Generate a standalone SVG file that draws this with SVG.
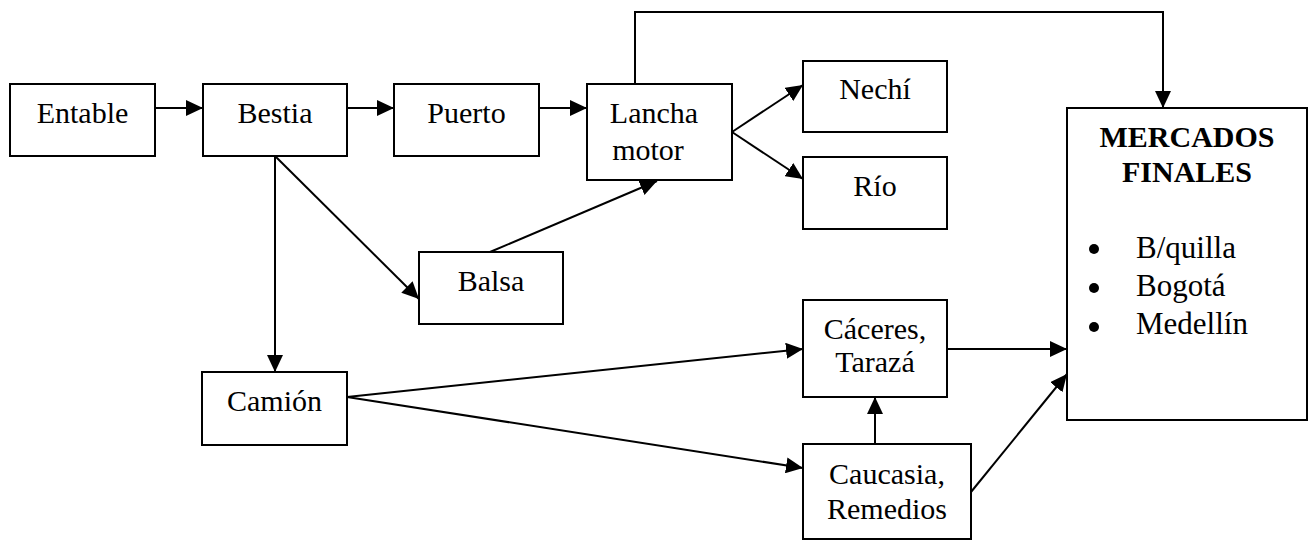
<svg xmlns="http://www.w3.org/2000/svg" width="1308" height="540" viewBox="0 0 1308 540">
<style>
rect.box{fill:#fff;stroke:#000;stroke-width:2}
text{font-family:'Liberation Serif','DejaVu Serif',serif;font-size:30px;fill:#000;text-anchor:middle}
.conn{fill:none;stroke:#000;stroke-width:2}
.b{font-weight:bold}
.l{text-anchor:start;font-size:31px}
</style>
<defs>
<marker id="ah" markerUnits="userSpaceOnUse" markerWidth="18" markerHeight="16" refX="17" refY="8" orient="auto">
<path d="M0,0 L17,8 L0,16 z" fill="#000"/>
</marker>
</defs>
<rect width="1308" height="540" fill="#fff"/>
<g id="connectors">
<line class="conn" x1="155" y1="108" x2="203" y2="108" marker-end="url(#ah)"/>
<line class="conn" x1="347" y1="108" x2="394" y2="108" marker-end="url(#ah)"/>
<line class="conn" x1="539" y1="108" x2="587" y2="108" marker-end="url(#ah)"/>
<line class="conn" x1="732" y1="132" x2="803" y2="85" marker-end="url(#ah)"/>
<line class="conn" x1="732" y1="132" x2="803" y2="179" marker-end="url(#ah)"/>
<polyline class="conn" points="635,84 635,12 1163,12 1163,108" marker-end="url(#ah)"/>
<line class="conn" x1="275" y1="156" x2="275" y2="372" marker-end="url(#ah)"/>
<line class="conn" x1="275" y1="156" x2="419" y2="299" marker-end="url(#ah)"/>
<line class="conn" x1="490" y1="252" x2="657" y2="181" marker-end="url(#ah)"/>
<line class="conn" x1="347" y1="397" x2="803" y2="349" marker-end="url(#ah)"/>
<line class="conn" x1="347" y1="397" x2="803" y2="468" marker-end="url(#ah)"/>
<line class="conn" x1="875" y1="444" x2="875" y2="397" marker-end="url(#ah)"/>
<line class="conn" x1="947" y1="349" x2="1067" y2="349" marker-end="url(#ah)"/>
<line class="conn" x1="971" y1="492" x2="1067" y2="374" marker-end="url(#ah)"/>
</g>
<g id="entable"><rect class="box" x="10" y="84" width="145" height="72"/><text x="82.5" y="123">Entable</text></g>
<g id="bestia"><rect class="box" x="203" y="84" width="144" height="72"/><text x="275" y="123">Bestia</text></g>
<g id="puerto"><rect class="box" x="394" y="84" width="145" height="72"/><text x="466.5" y="123">Puerto</text></g>
<g id="lancha"><rect class="box" x="587" y="84" width="145" height="96"/><text x="654" y="123">Lancha</text><text x="648" y="160">motor</text></g>
<g id="nechi"><rect class="box" x="803" y="61" width="144" height="71"/><text x="875" y="99">Nechí</text></g>
<g id="rio"><rect class="box" x="803" y="157" width="144" height="72"/><text x="875" y="196">Río</text></g>
<g id="balsa"><rect class="box" x="419" y="252" width="144" height="72"/><text x="491" y="291">Balsa</text></g>
<g id="camion"><rect class="box" x="202" y="372" width="145" height="73"/><text x="274.5" y="411">Camión</text></g>
<g id="caceres"><rect class="box" x="803" y="300" width="144" height="97"/><text x="875" y="339">Cáceres,</text><text x="875" y="372">Tarazá</text></g>
<g id="caucasia"><rect class="box" x="803" y="444" width="168" height="95"/><text x="887" y="484">Caucasia,</text><text x="887" y="519">Remedios</text></g>
<g id="mercados"><rect class="box" x="1067" y="108" width="240" height="312"/>
<text class="b" x="1187" y="147">MERCADOS</text><text class="b" x="1187" y="182">FINALES</text>
<circle cx="1094" cy="249" r="5" fill="#000"/><circle cx="1094" cy="288" r="5" fill="#000"/><circle cx="1094" cy="327" r="5" fill="#000"/>
<text class="l" x="1136" y="258">B/quilla</text><text class="l" x="1136" y="296">Bogotá</text><text class="l" x="1136" y="334">Medellín</text>
</g>
</svg>
